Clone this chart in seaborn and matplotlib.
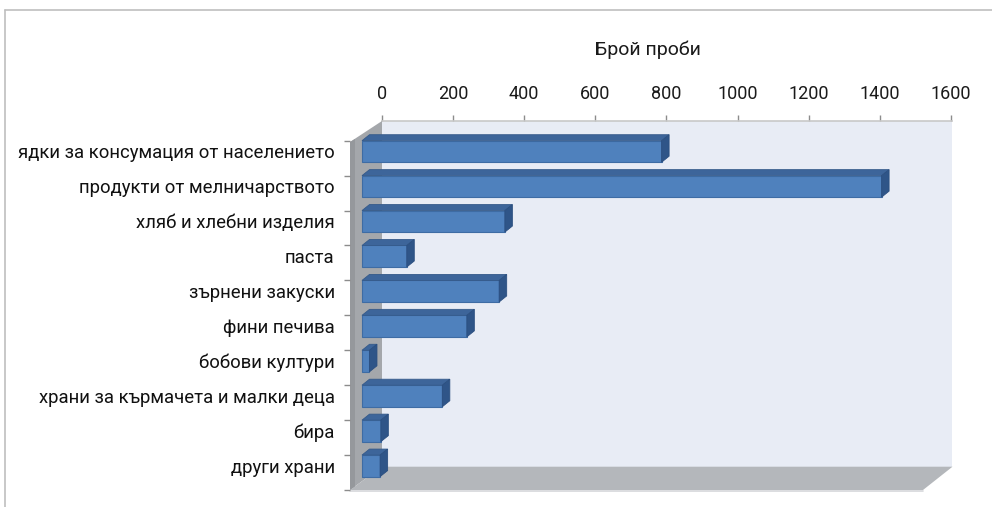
import numpy as np
import pandas as pd
import matplotlib
matplotlib.use("Agg")
import matplotlib.pyplot as plt
import matplotlib.transforms as mtransforms
from matplotlib.patches import Polygon
from matplotlib.lines import Line2D
import seaborn as sns

categories = [
    "ядки за консумация от населението",
    "продукти от мелничарството",
    "хляб и хлебни изделия",
    "паста",
    "зърнени закуски",
    "фини печива",
    "бобови култури",
    "храни за кърмачета и малки деца",
    "бира",
    "други храни",
]
values = [843, 1462, 402, 126, 386, 295, 21, 226, 53, 51]
x_ticks = [0, 200, 400, 600, 800, 1000, 1200, 1400, 1600]
x_title = "Брой проби"

sns.set_theme(style="white")
plt.rcParams["font.family"] = ["Roboto", "DejaVu Sans"]

W, H = 992, 507
fig = plt.figure(figsize=(W / 100, H / 100), dpi=100)
fig.patch.set_facecolor("white")
ident = mtransforms.IdentityTransform()

def fy(y_img):
    return H - y_img

def rect(l, t, r, b):
    return [l / W, (H - b) / H, (r - l) / W, (b - t) / H]

# figure border
fig.add_artist(Line2D([5, W], [fy(10), fy(10)], transform=ident, color="#BFBFBF", lw=1.2))
fig.add_artist(Line2D([5, 5], [fy(10), 0], transform=ident, color="#BFBFBF", lw=1.2))

# back wall axes (value axis with ticks on top)
axw = fig.add_axes(rect(382, 121, 952, 466.7), zorder=0)
axw.set_facecolor("#E8ECF5")
axw.set_xlim(0, 1603)
axw.set_ylim(0, 1)
axw.set_yticks([])
axw.set_xticks(x_ticks)
axw.set_xticklabels([str(t) for t in x_ticks])
axw.xaxis.tick_top()
axw.tick_params(axis="x", which="major", direction="out", length=4, width=1,
                color="#8C8C8C", top=True, bottom=False, labeltop=True,
                labelbottom=False, labelsize=13, labelcolor="#1A1A1A", pad=9)
for s in ["left", "right", "bottom"]:
    axw.spines[s].set_visible(False)
axw.spines["top"].set_color("#C8C8C8")
axw.spines["top"].set_linewidth(1.2)

fig.text(648 / W, fy(50) / H, x_title, ha="center", va="center",
         fontsize=14, color="#1A1A1A")

# left wall and floor
fig.add_artist(Polygon([(350, fy(490)), (350, fy(142)), (382, fy(121)), (382, fy(466.7))],
                       closed=True, transform=ident, facecolor="#A4A7AB",
                       edgecolor="none", zorder=1))
fig.add_artist(Polygon([(350, fy(142)), (355, fy(139)), (355, fy(487)), (350, fy(490))],
                       closed=True, transform=ident, facecolor="#95989C",
                       edgecolor="none", zorder=1))
fig.add_artist(Polygon([(350, fy(490)), (382, fy(466.7)), (952.5, fy(466.7)), (923, fy(490))],
                       closed=True, transform=ident, facecolor="#B4B7BB",
                       edgecolor="none", zorder=1))
fig.add_artist(Line2D([350, 923], [fy(490.5), fy(490.5)], transform=ident,
                      color="#D5D7DA", lw=1.2, zorder=1))

# bars axes (front plane)
axb = fig.add_axes(rect(350, 140.7, 923, 490), zorder=2)
axb.patch.set_alpha(0)
df = pd.DataFrame({"cat": categories, "val": values})
sns.barplot(data=df, x="val", y="cat", orient="h", color="#4F81BD",
            saturation=1, width=0.616, edgecolor="#3E6CA4", linewidth=0.8, ax=axb)
px_per_unit = 0.3554
axb.set_xlim((350 - 362) / px_per_unit, (923 - 362) / px_per_unit)
axb.set_ylim(len(categories) - 0.308, -0.308)
axb.set_xlabel("")
axb.set_ylabel("")
axb.set_xticks([])
axb.set_yticks(np.arange(len(categories)))
axb.set_yticklabels(categories)
axb.set_yticks(np.arange(len(categories) + 1) - 0.308, minor=True)
axb.tick_params(axis="y", which="major", length=0, pad=11, labelsize=13.3,
                labelcolor="#111111")
axb.tick_params(axis="y", which="minor", left=True, length=4.5, width=1,
                color="#8C8C8C", direction="out")
for s in axb.spines.values():
    s.set_visible(False)

# 3D depth faces derived from the seaborn bar patches
dx, dy = 7.5, 6.0
for p in list(axb.patches):
    x0, y0 = p.get_x(), p.get_y()
    x1, y1 = x0 + p.get_width(), y0 + p.get_height()
    (l, b1), (r, b2) = axb.transData.transform([(x0, y0), (x1, y1)])
    top, bot = max(b1, b2), min(b1, b2)
    topf = Polygon([(l, top), (r, top), (r + dx, top + dy), (l + dx, top + dy)],
                   closed=True, transform=ident, facecolor="#3D659A",
                   edgecolor="#355A8A", lw=0.6, clip_on=False, zorder=3)
    side = Polygon([(r, top), (r, bot), (r + dx, bot + dy), (r + dx, top + dy)],
                   closed=True, transform=ident, facecolor="#2F5588",
                   edgecolor="#2B4F80", lw=0.6, clip_on=False, zorder=3)
    axb.add_patch(topf)
    axb.add_patch(side)

fig.savefig("out.png", dpi=100)
